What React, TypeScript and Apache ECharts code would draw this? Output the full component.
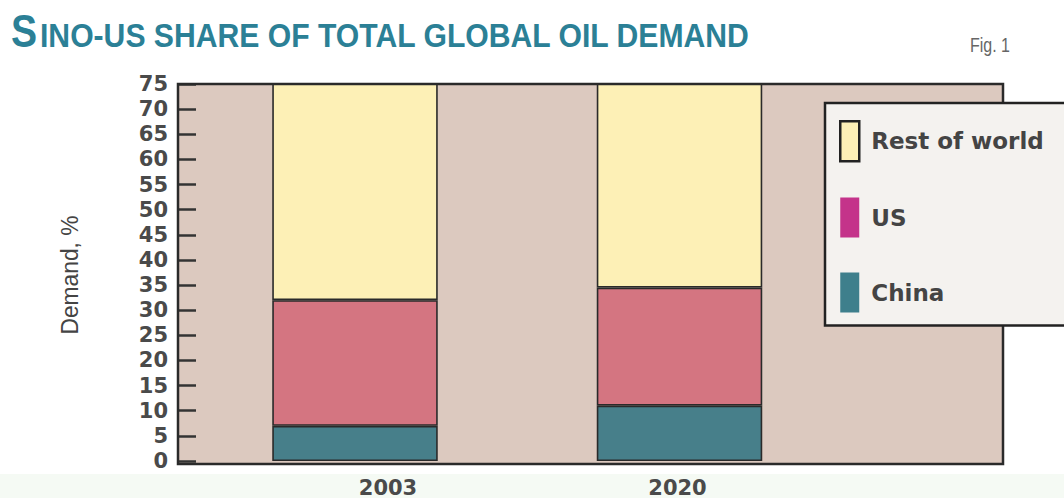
import React, { useEffect, useRef } from "react";
import * as echarts from "echarts";

const categories = ["2003", "2020"];
const chinaValues = [7, 11];
const usValues = [25, 23.5];
const restValues = [68, 65.5];
const yTicks = { min: 0, max: 75, interval: 5 };
const seriesNames = ["China", "US", "Rest of world"];

const FONT = "DejaVu Sans";

export default function App() {
  const ref = useRef<HTMLDivElement>(null);
  useEffect(() => {
    document.body.style.margin = "0";
    const chart = echarts.init(ref.current!, null, { renderer: "svg" });
    const barBorder = { borderColor: "#2a2a2a", borderWidth: 1.6 };
    const option: any = {
      animation: false,
      backgroundColor: "#ffffff",
      grid: { left: 192.75, right: 222.25, top: 84, bottom: 34, containLabel: false },
      xAxis: {
        type: "category",
        data: categories,
        axisLine: { show: false },
        axisTick: { show: false },
        axisLabel: {
          margin: 16,
          fontFamily: FONT,
          fontWeight: "bold",
          fontSize: 21,
          color: "#4a4a4a",
          formatter: (v: string, i: number) => (i === 0 ? `{a|${v}}` : `{b|${v}}`),
          rich: {
            a: { fontFamily: FONT, fontWeight: "bold", fontSize: 21, color: "#4a4a4a", padding: [0, 0, 0, 66] },
            b: { fontFamily: FONT, fontWeight: "bold", fontSize: 21, color: "#4a4a4a", padding: [0, 4, 0, 0] },
          },
        },
      },
      yAxis: {
        type: "value",
        min: yTicks.min,
        max: yTicks.max,
        interval: yTicks.interval,
        offset: 14.75,
        axisLine: { show: false },
        splitLine: { show: false },
        axisTick: { show: true, inside: true, length: 18, lineStyle: { color: "#333", width: 2.5 } },
        axisLabel: { margin: 10, fontFamily: FONT, fontWeight: "bold", fontSize: 21, color: "#4a4a4a" },
      },
      legend: {
        orient: "vertical",
        left: 825,
        top: 103,
        padding: [17, 300, 13, 14],
        itemWidth: 19,
        itemHeight: 40,
        itemGap: 35,
        backgroundColor: "#f4f2ef",
        borderColor: "#222",
        borderWidth: 2.5,
        borderRadius: 0,
        icon: "rect",
        textStyle: { fontFamily: FONT, fontWeight: "bold", fontSize: 23, color: "#444", padding: [0, 0, 0, 7] },
        data: [
          { name: "Rest of world", itemStyle: { color: "#fdf0b6", borderColor: "#222", borderWidth: 2.5 } },
          { name: "US", itemStyle: { color: "#c4338a", borderWidth: 0 } },
          { name: "China", itemStyle: { color: "#3e7f8c", borderWidth: 0 } },
        ],
      },
      series: [
        { name: seriesNames[0], type: "bar", stack: "total", data: chinaValues, barWidth: "51%", itemStyle: { color: "#477f8a", ...barBorder } },
        { name: seriesNames[1], type: "bar", stack: "total", data: usValues, barWidth: "51%", itemStyle: { color: "#d47581", ...barBorder } },
        { name: seriesNames[2], type: "bar", stack: "total", data: restValues, barWidth: "51%", itemStyle: { color: "#fdf0b6", ...barBorder } },
      ],
      graphic: [
        { type: "rect", z: -1, shape: { x: 178, y: 84, width: 825, height: 380 }, style: { fill: "#dcc9bf" } },
        { type: "rect", z: 3, shape: { x: 178, y: 84, width: 825, height: 380 }, style: { fill: "none", stroke: "#2a2a2a", lineWidth: 2.5 } },
        { type: "rect", z: -2, shape: { x: 0, y: 474, width: 1064, height: 24 }, style: { fill: "#f5faf4" } },
        {
          type: "text", x: 11, y: 31, scaleX: 0.85, z: 5,
          style: { text: "S", x: 0, y: 0, fontFamily: "Liberation Sans", fontWeight: "bold", fontSize: 46, fill: "#2b8096", verticalAlign: "middle", align: "left" },
        },
        {
          type: "text", x: 40, y: 35, scaleX: 0.9, z: 5,
          style: { text: "INO-US SHARE OF TOTAL GLOBAL OIL DEMAND", x: 0, y: 0, fontFamily: "Liberation Sans", fontWeight: "bold", fontSize: 33.5, fill: "#2b8096", verticalAlign: "middle", align: "left" },
        },
        {
          type: "text", x: 990, y: 45, scaleX: 0.8, z: 5,
          style: { text: "Fig. 1", x: 0, y: 0, fontFamily: "Liberation Sans", fontSize: 20, fill: "#666", verticalAlign: "middle", align: "center" },
        },
        {
          type: "text", x: 70, y: 275, rotation: Math.PI / 2, scaleX: 0.95, z: 5,
          style: { text: "Demand, %", x: 0, y: 0, fontFamily: "Liberation Sans", fontSize: 24, fill: "#444", verticalAlign: "middle", align: "center" },
        },
      ],
    };
    chart.setOption(option);
    return () => chart.dispose();
  }, []);
  return <div ref={ref} style={{ position: "fixed", left: 0, top: 0, width: 1064, height: 498 }} />;
}
